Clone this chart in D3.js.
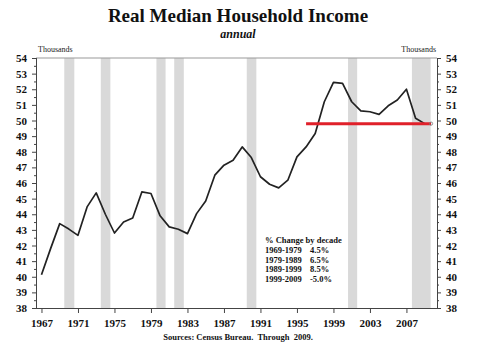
<!DOCTYPE html>
<html>
<head>
<meta charset="utf-8">
<script src="https://cdn.jsdelivr.net/npm/d3@7"></script>
<style>
  body { margin: 0; background: #fff; }
  text { font-family: "Liberation Serif", "DejaVu Serif", serif; }
</style>
</head>
<body>
<svg id="chart"></svg>
<script>
// data
const years = [1967, 1968, 1969, 1970, 1971, 1972, 1973, 1974, 1975, 1976, 1977, 1978, 1979,
  1980, 1981, 1982, 1983, 1984, 1985, 1986, 1987, 1988, 1989, 1990, 1991, 1992, 1993, 1994,
  1995, 1996, 1997, 1998, 1999, 2000, 2001, 2002, 2003, 2004, 2005, 2006, 2007, 2008, 2009];
const income = [40.13, 41.8, 43.4, 43.05, 42.65, 44.47, 45.37, 44.0, 42.8, 43.5, 43.76, 45.43, 45.33,
  43.9, 43.19, 43.04, 42.76, 44.04, 44.85, 46.5, 47.14, 47.46, 48.31, 47.63, 46.4, 45.92, 45.69, 46.18,
  47.67, 48.31, 49.17, 51.2, 52.44, 52.38, 51.2, 50.62, 50.56, 50.39, 50.94, 51.31, 52.0, 50.14, 49.8];
const recessions = [[1969.5, 1970.6], [1973.5, 1974.55], [1979.6, 1980.6], [1981.55, 1982.6],
  [1989.5, 1990.55], [2000.6, 2001.6], [2007.6, 2009.65]];
const xTicks = [1967, 1971, 1975, 1979, 1983, 1987, 1991, 1995, 1999, 2003, 2007];
const refLine = { from: 1996.0, to: 2009.7, value: 49.8 };
const decades = ["1969-1979", "1979-1989", "1989-1999", "1999-2009"];
const decadeChange = ["4.5%", "6.5%", "8.5%", "-5.0%"];

const width = 480, height = 353;
const svg = d3.select("#chart").attr("width", width).attr("height", height);

const x = d3.scaleLinear().domain([1966.4, 2010.35]).range([36, 437]);
const y = d3.scaleLinear().domain([38, 54]).range([308, 58]);

// titles
svg.append("text").attr("x", 238).attr("y", 22).attr("text-anchor", "middle")
  .attr("font-size", "19px").attr("font-weight", "bold").attr("fill", "#111")
  .text("Real Median Household Income");
svg.append("text").attr("x", 238).attr("y", 38).attr("text-anchor", "middle")
  .attr("font-size", "12px").attr("font-weight", "bold").attr("font-style", "italic").attr("fill", "#111")
  .text("annual");
svg.append("text").attr("x", 38).attr("y", 52).attr("font-size", "8px").attr("fill", "#222").text("Thousands");
svg.append("text").attr("x", 436).attr("y", 52).attr("text-anchor", "end")
  .attr("font-size", "8px").attr("fill", "#222").text("Thousands");

// recession bars
svg.append("g").selectAll("rect")
  .data(recessions)
  .join("rect")
  .attr("x", d => x(d[0]))
  .attr("width", d => x(d[1]) - x(d[0]))
  .attr("y", y(54))
  .attr("height", y(38) - y(54))
  .attr("fill", "#d9d9d9");

// top border
svg.append("line").attr("x1", 36).attr("x2", 437).attr("y1", y(54)).attr("y2", y(54))
  .attr("stroke", "#999").attr("stroke-width", 1);

// axes
const yMajor = d3.range(38, 55, 1);
const yMinor = d3.range(38.5, 54, 1);

function styleAxis(g) {
  g.select(".domain").attr("stroke", "#444");
  g.selectAll(".tick line").attr("stroke", "#444");
  g.selectAll(".tick text").attr("font-family", "Liberation Serif, serif")
    .attr("font-weight", "bold").attr("font-size", "11px").attr("fill", "#111");
}

const left = svg.append("g").attr("transform", "translate(36,0)")
  .call(d3.axisLeft(y).tickValues(yMajor).tickFormat(d3.format("d")).tickSize(4).tickPadding(5))
  .call(styleAxis);
left.select(".domain").attr("d", `M0.5,${y(38)}V${y(54)}`);
svg.append("g").attr("transform", "translate(36,0)")
  .call(d3.axisLeft(y).tickValues(yMinor).tickFormat("").tickSize(2))
  .call(g => g.select(".domain").remove())
  .call(g => g.selectAll(".tick line").attr("stroke", "#444"));

const right = svg.append("g").attr("transform", "translate(437,0)")
  .call(d3.axisRight(y).tickValues(yMajor).tickFormat(d3.format("d")).tickSize(4).tickPadding(5))
  .call(styleAxis);
right.select(".domain").attr("d", `M0.5,${y(38)}V${y(54)}`);
svg.append("g").attr("transform", "translate(437,0)")
  .call(d3.axisRight(y).tickValues(yMinor).tickFormat("").tickSize(2))
  .call(g => g.select(".domain").remove())
  .call(g => g.selectAll(".tick line").attr("stroke", "#444"));

const bottom = svg.append("g").attr("transform", `translate(0,${y(38)})`)
  .call(d3.axisBottom(x).tickValues(xTicks).tickFormat(d3.format("d")).tickSize(5).tickPadding(6))
  .call(styleAxis);
bottom.select(".domain").attr("d", `M36,0.5H437`);

// income line
const line = d3.line().x((d, i) => x(years[i])).y(d => y(d));
svg.append("path")
  .datum(income)
  .attr("fill", "none")
  .attr("stroke", "#222")
  .attr("stroke-width", 1.7)
  .attr("stroke-linejoin", "round")
  .attr("d", line);

// red reference line
svg.append("line")
  .attr("x1", x(refLine.from)).attr("x2", x(refLine.to))
  .attr("y1", y(refLine.value)).attr("y2", y(refLine.value))
  .attr("stroke", "#e0202a").attr("stroke-width", 3);
svg.append("circle")
  .attr("cx", x(refLine.to)).attr("cy", y(refLine.value)).attr("r", 1.6)
  .attr("fill", "none").attr("stroke", "#777").attr("stroke-width", 0.8);

// decade change box
const box = svg.append("g").attr("transform", "translate(265,243)");
box.append("text").attr("font-size", "8.5px").attr("font-weight", "bold").attr("fill", "#111")
  .text("% Change by decade");
const rows = box.selectAll("g.row")
  .data(decades)
  .join("g")
  .attr("class", "row")
  .attr("transform", (d, i) => `translate(0,${10 + i * 9.5})`);
rows.append("text").attr("font-size", "8.5px").attr("font-weight", "bold").attr("fill", "#111")
  .text(d => d);
rows.append("text").attr("x", 45).attr("font-size", "8.5px").attr("font-weight", "bold").attr("fill", "#111")
  .text((d, i) => decadeChange[i]);

// footer
svg.append("text").attr("x", 238).attr("y", 340).attr("text-anchor", "middle")
  .attr("font-size", "8.5px").attr("font-weight", "bold").attr("fill", "#111")
  .attr("xml:space", "preserve")
  .text("Sources: Census Bureau.  Through  2009.");
</script>
</body>
</html>
